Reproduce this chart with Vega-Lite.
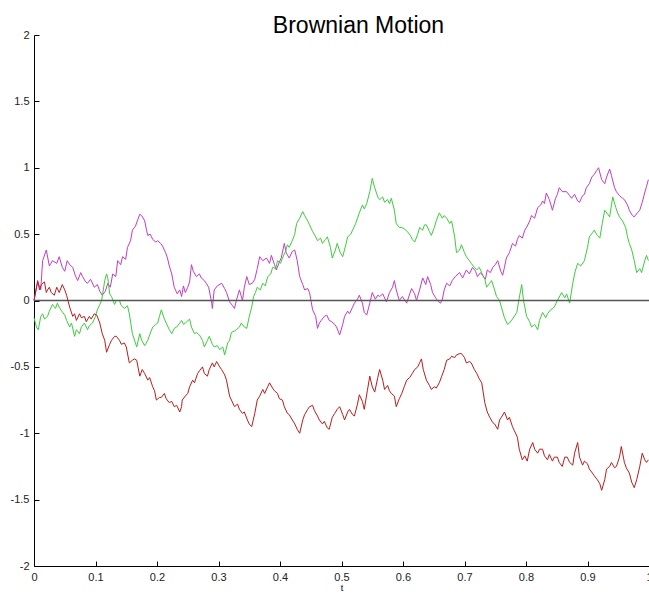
{
"$schema": "https://vega.github.io/schema/vega-lite/v6.json",
"width": 615, "height": 531,
"autosize": {"type": "none"},
"padding": {"left": 34, "top": 35, "right": 0, "bottom": 28},
"background": "white",
"config": {"view": {"stroke": null}, "font": "Liberation Sans"},
"title": {"text": "Brownian Motion", "fontSize": 23, "fontWeight": "normal", "color": "#000", "font": "Liberation Sans", "anchor": "middle", "dx": 17, "dy": 29, "baseline": "alphabetic", "offset": 2},
"datasets": {
"m": [
{"t":0,"v":0.0},{"t":0.006,"v":0.14},{"t":0.011,"v":0.08},{"t":0.014,"v":0.30},{"t":0.020,"v":0.38},{"t":0.025,"v":0.26},{"t":0.030,"v":0.30},{"t":0.037,"v":0.28},{"t":0.041,"v":0.33},{"t":0.046,"v":0.25},{"t":0.050,"v":0.22},{"t":0.054,"v":0.30},{"t":0.058,"v":0.27},{"t":0.063,"v":0.25},{"t":0.067,"v":0.19},{"t":0.071,"v":0.15},{"t":0.076,"v":0.21},{"t":0.079,"v":0.18},{"t":0.084,"v":0.14},{"t":0.087,"v":0.13},{"t":0.092,"v":0.16},{"t":0.098,"v":0.10},{"t":0.103,"v":0.12},{"t":0.107,"v":0.07},{"t":0.111,"v":0.04},{"t":0.116,"v":0.07},{"t":0.120,"v":0.13},{"t":0.124,"v":0.10},{"t":0.128,"v":0.20},{"t":0.133,"v":0.18},{"t":0.136,"v":0.30},{"t":0.141,"v":0.27},{"t":0.144,"v":0.33},{"t":0.149,"v":0.31},{"t":0.152,"v":0.40},{"t":0.157,"v":0.45},{"t":0.160,"v":0.53},{"t":0.165,"v":0.56},{"t":0.168,"v":0.60},{"t":0.172,"v":0.65},{"t":0.175,"v":0.64},{"t":0.180,"v":0.60},{"t":0.183,"v":0.53},{"t":0.185,"v":0.49},{"t":0.189,"v":0.50},{"t":0.193,"v":0.46},{"t":0.198,"v":0.44},{"t":0.201,"v":0.45},{"t":0.206,"v":0.43},{"t":0.209,"v":0.41},{"t":0.214,"v":0.36},{"t":0.217,"v":0.32},{"t":0.220,"v":0.26},{"t":0.224,"v":0.20},{"t":0.228,"v":0.10},{"t":0.233,"v":0.05},{"t":0.237,"v":0.08},{"t":0.240,"v":0.03},{"t":0.243,"v":0.11},{"t":0.246,"v":0.06},{"t":0.250,"v":0.10},{"t":0.253,"v":0.14},{"t":0.256,"v":0.27},{"t":0.259,"v":0.22},{"t":0.264,"v":0.18},{"t":0.269,"v":0.20},{"t":0.272,"v":0.17},{"t":0.277,"v":0.15},{"t":0.280,"v":0.13},{"t":0.284,"v":0.10},{"t":0.289,"v":-0.02},{"t":0.290,"v":-0.06},{"t":0.293,"v":0.08},{"t":0.298,"v":0.11},{"t":0.305,"v":0.13},{"t":0.310,"v":0.09},{"t":0.313,"v":0.06},{"t":0.318,"v":-0.01},{"t":0.323,"v":-0.04},{"t":0.326,"v":-0.06},{"t":0.329,"v":0.00},{"t":0.334,"v":0.08},{"t":0.339,"v":0.00},{"t":0.342,"v":0.10},{"t":0.346,"v":0.18},{"t":0.350,"v":0.12},{"t":0.355,"v":0.13},{"t":0.359,"v":0.16},{"t":0.363,"v":0.24},{"t":0.367,"v":0.33},{"t":0.372,"v":0.30},{"t":0.378,"v":0.32},{"t":0.383,"v":0.28},{"t":0.386,"v":0.34},{"t":0.391,"v":0.27},{"t":0.394,"v":0.23},{"t":0.399,"v":0.29},{"t":0.402,"v":0.32},{"t":0.407,"v":0.43},{"t":0.410,"v":0.36},{"t":0.415,"v":0.32},{"t":0.420,"v":0.37},{"t":0.424,"v":0.38},{"t":0.428,"v":0.30},{"t":0.432,"v":0.18},{"t":0.437,"v":0.12},{"t":0.440,"v":0.08},{"t":0.445,"v":0.09},{"t":0.448,"v":0.06},{"t":0.453,"v":-0.07},{"t":0.458,"v":-0.12},{"t":0.461,"v":-0.21},{"t":0.464,"v":-0.17},{"t":0.467,"v":-0.15},{"t":0.472,"v":-0.12},{"t":0.476,"v":-0.11},{"t":0.480,"v":-0.15},{"t":0.484,"v":-0.16},{"t":0.489,"v":-0.18},{"t":0.492,"v":-0.20},{"t":0.497,"v":-0.26},{"t":0.502,"v":-0.18},{"t":0.505,"v":-0.12},{"t":0.510,"v":-0.08},{"t":0.513,"v":-0.10},{"t":0.518,"v":-0.05},{"t":0.521,"v":-0.02},{"t":0.526,"v":0.01},{"t":0.529,"v":0.04},{"t":0.534,"v":-0.02},{"t":0.537,"v":-0.09},{"t":0.541,"v":-0.11},{"t":0.546,"v":-0.02},{"t":0.550,"v":0.06},{"t":0.555,"v":0.01},{"t":0.559,"v":0.04},{"t":0.562,"v":0.03},{"t":0.567,"v":0.05},{"t":0.573,"v":-0.01},{"t":0.578,"v":0.06},{"t":0.583,"v":0.10},{"t":0.586,"v":0.15},{"t":0.589,"v":0.08},{"t":0.594,"v":0.00},{"t":0.599,"v":0.03},{"t":0.606,"v":-0.02},{"t":0.611,"v":0.05},{"t":0.614,"v":0.09},{"t":0.619,"v":0.05},{"t":0.622,"v":0.00},{"t":0.627,"v":0.08},{"t":0.632,"v":0.17},{"t":0.637,"v":0.12},{"t":0.640,"v":0.18},{"t":0.645,"v":0.12},{"t":0.648,"v":0.06},{"t":0.653,"v":0.02},{"t":0.656,"v":0.00},{"t":0.661,"v":-0.02},{"t":0.664,"v":0.01},{"t":0.667,"v":0.08},{"t":0.671,"v":0.13},{"t":0.676,"v":0.11},{"t":0.680,"v":0.15},{"t":0.685,"v":0.18},{"t":0.692,"v":0.21},{"t":0.697,"v":0.17},{"t":0.703,"v":0.23},{"t":0.708,"v":0.20},{"t":0.713,"v":0.25},{"t":0.718,"v":0.22},{"t":0.721,"v":0.18},{"t":0.726,"v":0.21},{"t":0.729,"v":0.19},{"t":0.734,"v":0.16},{"t":0.737,"v":0.23},{"t":0.742,"v":0.21},{"t":0.746,"v":0.25},{"t":0.750,"v":0.27},{"t":0.754,"v":0.30},{"t":0.759,"v":0.22},{"t":0.762,"v":0.19},{"t":0.765,"v":0.25},{"t":0.768,"v":0.32},{"t":0.773,"v":0.36},{"t":0.778,"v":0.43},{"t":0.783,"v":0.41},{"t":0.786,"v":0.46},{"t":0.789,"v":0.49},{"t":0.794,"v":0.47},{"t":0.798,"v":0.53},{"t":0.802,"v":0.56},{"t":0.806,"v":0.60},{"t":0.809,"v":0.64},{"t":0.814,"v":0.62},{"t":0.819,"v":0.70},{"t":0.824,"v":0.72},{"t":0.827,"v":0.75},{"t":0.830,"v":0.73},{"t":0.833,"v":0.81},{"t":0.838,"v":0.76},{"t":0.843,"v":0.68},{"t":0.848,"v":0.77},{"t":0.851,"v":0.80},{"t":0.854,"v":0.85},{"t":0.859,"v":0.82},{"t":0.866,"v":0.82},{"t":0.871,"v":0.79},{"t":0.874,"v":0.77},{"t":0.879,"v":0.80},{"t":0.884,"v":0.75},{"t":0.887,"v":0.74},{"t":0.892,"v":0.79},{"t":0.895,"v":0.80},{"t":0.898,"v":0.85},{"t":0.903,"v":0.88},{"t":0.907,"v":0.93},{"t":0.911,"v":0.95},{"t":0.915,"v":0.98},{"t":0.918,"v":1.00},{"t":0.923,"v":0.91},{"t":0.928,"v":0.88},{"t":0.931,"v":0.93},{"t":0.936,"v":0.99},{"t":0.939,"v":0.94},{"t":0.944,"v":0.85},{"t":0.947,"v":0.82},{"t":0.952,"v":0.79},{"t":0.957,"v":0.77},{"t":0.960,"v":0.76},{"t":0.965,"v":0.72},{"t":0.968,"v":0.68},{"t":0.973,"v":0.64},{"t":0.976,"v":0.63},{"t":0.981,"v":0.66},{"t":0.985,"v":0.68},{"t":0.989,"v":0.74},{"t":0.993,"v":0.81},{"t":0.996,"v":0.86},{"t":0.999,"v":0.91}
],
"g": [
{"t":0,"v":-0.13},{"t":0.004,"v":-0.20},{"t":0.007,"v":-0.22},{"t":0.011,"v":-0.12},{"t":0.014,"v":-0.10},{"t":0.017,"v":-0.14},{"t":0.022,"v":-0.12},{"t":0.025,"v":-0.08},{"t":0.030,"v":-0.03},{"t":0.035,"v":-0.06},{"t":0.038,"v":-0.02},{"t":0.041,"v":-0.05},{"t":0.045,"v":-0.08},{"t":0.050,"v":-0.11},{"t":0.053,"v":-0.15},{"t":0.058,"v":-0.20},{"t":0.061,"v":-0.17},{"t":0.066,"v":-0.27},{"t":0.069,"v":-0.22},{"t":0.074,"v":-0.25},{"t":0.077,"v":-0.20},{"t":0.082,"v":-0.17},{"t":0.087,"v":-0.22},{"t":0.090,"v":-0.19},{"t":0.095,"v":-0.17},{"t":0.100,"v":-0.12},{"t":0.103,"v":-0.07},{"t":0.107,"v":-0.03},{"t":0.110,"v":0.00},{"t":0.115,"v":0.15},{"t":0.118,"v":0.20},{"t":0.120,"v":0.17},{"t":0.123,"v":0.05},{"t":0.126,"v":0.03},{"t":0.131,"v":-0.03},{"t":0.134,"v":0.00},{"t":0.139,"v":0.00},{"t":0.142,"v":-0.04},{"t":0.147,"v":-0.06},{"t":0.152,"v":-0.04},{"t":0.155,"v":-0.10},{"t":0.160,"v":-0.25},{"t":0.167,"v":-0.35},{"t":0.172,"v":-0.25},{"t":0.175,"v":-0.30},{"t":0.180,"v":-0.34},{"t":0.185,"v":-0.30},{"t":0.188,"v":-0.26},{"t":0.193,"v":-0.20},{"t":0.198,"v":-0.18},{"t":0.201,"v":-0.17},{"t":0.204,"v":-0.12},{"t":0.207,"v":-0.07},{"t":0.212,"v":-0.14},{"t":0.215,"v":-0.17},{"t":0.220,"v":-0.22},{"t":0.224,"v":-0.25},{"t":0.228,"v":-0.21},{"t":0.232,"v":-0.20},{"t":0.237,"v":-0.17},{"t":0.240,"v":-0.15},{"t":0.243,"v":-0.18},{"t":0.246,"v":-0.17},{"t":0.253,"v":-0.14},{"t":0.256,"v":-0.20},{"t":0.261,"v":-0.25},{"t":0.264,"v":-0.24},{"t":0.269,"v":-0.26},{"t":0.274,"v":-0.30},{"t":0.277,"v":-0.35},{"t":0.282,"v":-0.30},{"t":0.285,"v":-0.27},{"t":0.290,"v":-0.33},{"t":0.293,"v":-0.35},{"t":0.298,"v":-0.34},{"t":0.302,"v":-0.37},{"t":0.307,"v":-0.35},{"t":0.310,"v":-0.41},{"t":0.315,"v":-0.32},{"t":0.318,"v":-0.30},{"t":0.321,"v":-0.24},{"t":0.326,"v":-0.23},{"t":0.329,"v":-0.22},{"t":0.334,"v":-0.20},{"t":0.337,"v":-0.17},{"t":0.342,"v":-0.20},{"t":0.346,"v":-0.21},{"t":0.350,"v":-0.12},{"t":0.354,"v":-0.05},{"t":0.357,"v":0.03},{"t":0.360,"v":0.06},{"t":0.363,"v":0.10},{"t":0.368,"v":0.08},{"t":0.372,"v":0.13},{"t":0.376,"v":0.11},{"t":0.380,"v":0.18},{"t":0.385,"v":0.20},{"t":0.388,"v":0.25},{"t":0.393,"v":0.24},{"t":0.396,"v":0.30},{"t":0.401,"v":0.28},{"t":0.404,"v":0.32},{"t":0.409,"v":0.37},{"t":0.412,"v":0.42},{"t":0.415,"v":0.40},{"t":0.419,"v":0.44},{"t":0.424,"v":0.50},{"t":0.427,"v":0.58},{"t":0.432,"v":0.62},{"t":0.437,"v":0.67},{"t":0.440,"v":0.64},{"t":0.445,"v":0.60},{"t":0.448,"v":0.57},{"t":0.453,"v":0.52},{"t":0.458,"v":0.48},{"t":0.461,"v":0.45},{"t":0.466,"v":0.47},{"t":0.469,"v":0.43},{"t":0.474,"v":0.46},{"t":0.477,"v":0.48},{"t":0.482,"v":0.40},{"t":0.485,"v":0.32},{"t":0.490,"v":0.38},{"t":0.493,"v":0.43},{"t":0.498,"v":0.36},{"t":0.502,"v":0.33},{"t":0.507,"v":0.42},{"t":0.510,"v":0.48},{"t":0.515,"v":0.50},{"t":0.518,"v":0.53},{"t":0.523,"v":0.58},{"t":0.526,"v":0.62},{"t":0.529,"v":0.66},{"t":0.534,"v":0.72},{"t":0.537,"v":0.69},{"t":0.541,"v":0.73},{"t":0.546,"v":0.82},{"t":0.550,"v":0.92},{"t":0.554,"v":0.85},{"t":0.559,"v":0.78},{"t":0.562,"v":0.76},{"t":0.567,"v":0.78},{"t":0.570,"v":0.74},{"t":0.575,"v":0.76},{"t":0.578,"v":0.73},{"t":0.581,"v":0.77},{"t":0.586,"v":0.68},{"t":0.589,"v":0.58},{"t":0.594,"v":0.55},{"t":0.598,"v":0.55},{"t":0.602,"v":0.54},{"t":0.607,"v":0.52},{"t":0.612,"v":0.49},{"t":0.615,"v":0.46},{"t":0.619,"v":0.44},{"t":0.624,"v":0.50},{"t":0.627,"v":0.55},{"t":0.632,"v":0.53},{"t":0.635,"v":0.57},{"t":0.638,"v":0.57},{"t":0.643,"v":0.52},{"t":0.646,"v":0.49},{"t":0.651,"v":0.55},{"t":0.654,"v":0.60},{"t":0.659,"v":0.66},{"t":0.664,"v":0.62},{"t":0.667,"v":0.64},{"t":0.671,"v":0.62},{"t":0.676,"v":0.58},{"t":0.679,"v":0.60},{"t":0.684,"v":0.48},{"t":0.687,"v":0.36},{"t":0.692,"v":0.38},{"t":0.695,"v":0.42},{"t":0.700,"v":0.36},{"t":0.703,"v":0.33},{"t":0.708,"v":0.30},{"t":0.711,"v":0.28},{"t":0.716,"v":0.25},{"t":0.720,"v":0.23},{"t":0.724,"v":0.25},{"t":0.728,"v":0.21},{"t":0.733,"v":0.16},{"t":0.736,"v":0.10},{"t":0.741,"v":0.13},{"t":0.744,"v":0.15},{"t":0.749,"v":0.08},{"t":0.752,"v":0.03},{"t":0.757,"v":0.00},{"t":0.760,"v":-0.05},{"t":0.765,"v":-0.13},{"t":0.770,"v":-0.18},{"t":0.773,"v":-0.17},{"t":0.778,"v":-0.14},{"t":0.785,"v":-0.09},{"t":0.789,"v":0.02},{"t":0.793,"v":0.12},{"t":0.796,"v":0.00},{"t":0.801,"v":-0.12},{"t":0.806,"v":-0.16},{"t":0.809,"v":-0.20},{"t":0.814,"v":-0.18},{"t":0.819,"v":-0.22},{"t":0.822,"v":-0.15},{"t":0.827,"v":-0.09},{"t":0.832,"v":-0.13},{"t":0.835,"v":-0.10},{"t":0.840,"v":-0.07},{"t":0.846,"v":-0.05},{"t":0.851,"v":0.00},{"t":0.858,"v":0.06},{"t":0.863,"v":0.02},{"t":0.866,"v":0.05},{"t":0.871,"v":-0.02},{"t":0.876,"v":0.13},{"t":0.880,"v":0.22},{"t":0.884,"v":0.28},{"t":0.889,"v":0.26},{"t":0.895,"v":0.30},{"t":0.900,"v":0.40},{"t":0.903,"v":0.48},{"t":0.908,"v":0.51},{"t":0.911,"v":0.53},{"t":0.916,"v":0.49},{"t":0.920,"v":0.47},{"t":0.924,"v":0.58},{"t":0.928,"v":0.68},{"t":0.933,"v":0.65},{"t":0.936,"v":0.63},{"t":0.939,"v":0.72},{"t":0.941,"v":0.78},{"t":0.946,"v":0.70},{"t":0.949,"v":0.66},{"t":0.952,"v":0.63},{"t":0.957,"v":0.60},{"t":0.962,"v":0.55},{"t":0.965,"v":0.48},{"t":0.968,"v":0.43},{"t":0.972,"v":0.38},{"t":0.976,"v":0.30},{"t":0.980,"v":0.21},{"t":0.985,"v":0.24},{"t":0.988,"v":0.21},{"t":0.993,"v":0.30},{"t":0.996,"v":0.34},{"t":0.999,"v":0.30}
],
"r": [
{"t":0,"v":0.00},{"t":0.004,"v":0.10},{"t":0.006,"v":0.15},{"t":0.009,"v":0.08},{"t":0.012,"v":0.12},{"t":0.017,"v":0.14},{"t":0.020,"v":0.06},{"t":0.022,"v":0.08},{"t":0.025,"v":0.10},{"t":0.028,"v":0.06},{"t":0.033,"v":0.04},{"t":0.037,"v":0.10},{"t":0.041,"v":0.06},{"t":0.046,"v":0.12},{"t":0.050,"v":0.08},{"t":0.053,"v":0.04},{"t":0.058,"v":-0.05},{"t":0.063,"v":-0.12},{"t":0.066,"v":-0.10},{"t":0.069,"v":-0.15},{"t":0.074,"v":-0.10},{"t":0.077,"v":-0.13},{"t":0.082,"v":-0.12},{"t":0.085,"v":-0.16},{"t":0.090,"v":-0.12},{"t":0.093,"v":-0.14},{"t":0.098,"v":-0.10},{"t":0.102,"v":-0.11},{"t":0.107,"v":-0.17},{"t":0.111,"v":-0.25},{"t":0.115,"v":-0.30},{"t":0.118,"v":-0.39},{"t":0.123,"v":-0.33},{"t":0.126,"v":-0.30},{"t":0.131,"v":-0.27},{"t":0.134,"v":-0.27},{"t":0.139,"v":-0.30},{"t":0.142,"v":-0.33},{"t":0.147,"v":-0.32},{"t":0.150,"v":-0.35},{"t":0.155,"v":-0.47},{"t":0.160,"v":-0.45},{"t":0.163,"v":-0.44},{"t":0.167,"v":-0.45},{"t":0.172,"v":-0.57},{"t":0.176,"v":-0.52},{"t":0.180,"v":-0.55},{"t":0.185,"v":-0.60},{"t":0.188,"v":-0.58},{"t":0.193,"v":-0.65},{"t":0.196,"v":-0.68},{"t":0.199,"v":-0.75},{"t":0.204,"v":-0.73},{"t":0.207,"v":-0.73},{"t":0.212,"v":-0.70},{"t":0.215,"v":-0.74},{"t":0.220,"v":-0.77},{"t":0.224,"v":-0.76},{"t":0.228,"v":-0.80},{"t":0.232,"v":-0.79},{"t":0.237,"v":-0.84},{"t":0.240,"v":-0.80},{"t":0.241,"v":-0.75},{"t":0.246,"v":-0.72},{"t":0.250,"v":-0.70},{"t":0.253,"v":-0.65},{"t":0.258,"v":-0.60},{"t":0.261,"v":-0.62},{"t":0.266,"v":-0.55},{"t":0.269,"v":-0.53},{"t":0.274,"v":-0.50},{"t":0.277,"v":-0.55},{"t":0.282,"v":-0.57},{"t":0.285,"v":-0.52},{"t":0.290,"v":-0.47},{"t":0.293,"v":-0.50},{"t":0.297,"v":-0.46},{"t":0.302,"v":-0.50},{"t":0.305,"v":-0.52},{"t":0.310,"v":-0.56},{"t":0.313,"v":-0.60},{"t":0.318,"v":-0.72},{"t":0.321,"v":-0.75},{"t":0.326,"v":-0.80},{"t":0.331,"v":-0.78},{"t":0.334,"v":-0.82},{"t":0.339,"v":-0.85},{"t":0.342,"v":-0.84},{"t":0.347,"v":-0.90},{"t":0.350,"v":-0.93},{"t":0.354,"v":-0.95},{"t":0.359,"v":-0.85},{"t":0.363,"v":-0.75},{"t":0.367,"v":-0.72},{"t":0.372,"v":-0.67},{"t":0.375,"v":-0.70},{"t":0.380,"v":-0.65},{"t":0.383,"v":-0.62},{"t":0.388,"v":-0.66},{"t":0.391,"v":-0.68},{"t":0.396,"v":-0.70},{"t":0.399,"v":-0.74},{"t":0.404,"v":-0.75},{"t":0.407,"v":-0.80},{"t":0.412,"v":-0.85},{"t":0.415,"v":-0.86},{"t":0.420,"v":-0.90},{"t":0.424,"v":-0.93},{"t":0.428,"v":-0.97},{"t":0.432,"v":-1.00},{"t":0.437,"v":-0.90},{"t":0.440,"v":-0.86},{"t":0.445,"v":-0.82},{"t":0.448,"v":-0.80},{"t":0.453,"v":-0.79},{"t":0.456,"v":-0.83},{"t":0.461,"v":-0.87},{"t":0.464,"v":-0.90},{"t":0.469,"v":-0.93},{"t":0.472,"v":-0.91},{"t":0.477,"v":-0.96},{"t":0.480,"v":-0.97},{"t":0.485,"v":-0.88},{"t":0.489,"v":-0.85},{"t":0.493,"v":-0.82},{"t":0.497,"v":-0.80},{"t":0.502,"v":-0.86},{"t":0.505,"v":-0.90},{"t":0.510,"v":-0.84},{"t":0.513,"v":-0.82},{"t":0.518,"v":-0.86},{"t":0.521,"v":-0.87},{"t":0.526,"v":-0.78},{"t":0.529,"v":-0.71},{"t":0.534,"v":-0.76},{"t":0.537,"v":-0.82},{"t":0.542,"v":-0.68},{"t":0.546,"v":-0.57},{"t":0.550,"v":-0.65},{"t":0.554,"v":-0.69},{"t":0.559,"v":-0.58},{"t":0.562,"v":-0.52},{"t":0.567,"v":-0.60},{"t":0.570,"v":-0.67},{"t":0.575,"v":-0.64},{"t":0.578,"v":-0.68},{"t":0.581,"v":-0.70},{"t":0.586,"v":-0.72},{"t":0.589,"v":-0.80},{"t":0.594,"v":-0.74},{"t":0.598,"v":-0.70},{"t":0.602,"v":-0.65},{"t":0.606,"v":-0.60},{"t":0.611,"v":-0.58},{"t":0.615,"v":-0.55},{"t":0.619,"v":-0.52},{"t":0.624,"v":-0.50},{"t":0.627,"v":-0.47},{"t":0.630,"v":-0.44},{"t":0.633,"v":-0.52},{"t":0.638,"v":-0.60},{"t":0.643,"v":-0.64},{"t":0.646,"v":-0.67},{"t":0.651,"v":-0.65},{"t":0.654,"v":-0.66},{"t":0.659,"v":-0.62},{"t":0.663,"v":-0.57},{"t":0.667,"v":-0.52},{"t":0.671,"v":-0.45},{"t":0.676,"v":-0.44},{"t":0.679,"v":-0.42},{"t":0.684,"v":-0.43},{"t":0.687,"v":-0.41},{"t":0.692,"v":-0.40},{"t":0.695,"v":-0.40},{"t":0.700,"v":-0.43},{"t":0.703,"v":-0.47},{"t":0.708,"v":-0.46},{"t":0.711,"v":-0.47},{"t":0.716,"v":-0.52},{"t":0.720,"v":-0.55},{"t":0.724,"v":-0.59},{"t":0.728,"v":-0.62},{"t":0.733,"v":-0.77},{"t":0.737,"v":-0.84},{"t":0.741,"v":-0.88},{"t":0.746,"v":-0.92},{"t":0.749,"v":-0.93},{"t":0.754,"v":-0.97},{"t":0.757,"v":-0.90},{"t":0.760,"v":-0.88},{"t":0.765,"v":-0.84},{"t":0.770,"v":-0.90},{"t":0.773,"v":-0.88},{"t":0.778,"v":-0.95},{"t":0.781,"v":-0.98},{"t":0.786,"v":-1.03},{"t":0.789,"v":-1.12},{"t":0.794,"v":-1.20},{"t":0.798,"v":-1.17},{"t":0.802,"v":-1.21},{"t":0.806,"v":-1.12},{"t":0.811,"v":-1.07},{"t":0.814,"v":-1.12},{"t":0.819,"v":-1.15},{"t":0.822,"v":-1.12},{"t":0.827,"v":-1.12},{"t":0.830,"v":-1.17},{"t":0.835,"v":-1.20},{"t":0.838,"v":-1.16},{"t":0.843,"v":-1.21},{"t":0.846,"v":-1.18},{"t":0.851,"v":-1.18},{"t":0.854,"v":-1.22},{"t":0.859,"v":-1.25},{"t":0.863,"v":-1.18},{"t":0.867,"v":-1.18},{"t":0.871,"v":-1.22},{"t":0.876,"v":-1.24},{"t":0.879,"v":-1.15},{"t":0.884,"v":-1.07},{"t":0.887,"v":-1.18},{"t":0.892,"v":-1.24},{"t":0.895,"v":-1.21},{"t":0.900,"v":-1.23},{"t":0.903,"v":-1.27},{"t":0.908,"v":-1.30},{"t":0.911,"v":-1.32},{"t":0.916,"v":-1.35},{"t":0.920,"v":-1.38},{"t":0.923,"v":-1.43},{"t":0.928,"v":-1.35},{"t":0.931,"v":-1.27},{"t":0.936,"v":-1.25},{"t":0.939,"v":-1.22},{"t":0.944,"v":-1.26},{"t":0.947,"v":-1.25},{"t":0.952,"v":-1.18},{"t":0.955,"v":-1.10},{"t":0.960,"v":-1.22},{"t":0.963,"v":-1.26},{"t":0.968,"v":-1.30},{"t":0.972,"v":-1.37},{"t":0.976,"v":-1.41},{"t":0.980,"v":-1.35},{"t":0.985,"v":-1.25},{"t":0.989,"v":-1.15},{"t":0.993,"v":-1.20},{"t":0.996,"v":-1.22},{"t":0.999,"v":-1.20}
],
"zero": [{"v":0}]
},
"encoding": {
"x": {"field": "t", "type": "quantitative", "scale": {"domain": [0, 1], "nice": false, "zero": false},
 "axis": {"values": [0,0.1,0.2,0.3,0.4,0.5,0.6,0.7,0.8,0.9,1], "labelExpr": "toString(datum.value)", "grid": false, "tickSize": -5, "tickColor": "#000", "domainColor": "#000", "labelFont": "Liberation Sans", "labelFontSize": 11, "labelColor": "#222", "labelPadding": 10, "labelFlush": false, "labelOverlap": false, "title": "t", "titleFont": "Liberation Sans", "titleFontSize": 9, "titleFontWeight": "normal", "titleColor": "#000", "titlePadding": 1}},
"y": {"field": "v", "type": "quantitative", "scale": {"domain": [-2, 2], "nice": false, "zero": false},
 "axis": {"values": [-2,-1.5,-1,-0.5,0,0.5,1,1.5,2], "labelExpr": "toString(datum.value)", "grid": false, "tickSize": -5, "tickColor": "#000", "domainColor": "#000", "labelFont": "Liberation Sans", "labelFontSize": 11, "labelColor": "#222", "labelPadding": 10, "labelFlush": false, "labelOverlap": false, "title": null}}
},
"layer": [
{"data": {"name": "m"}, "mark": {"type": "line", "color": "#c23cc2", "strokeWidth": 1}},
{"data": {"name": "g"}, "mark": {"type": "line", "color": "#3ccc3c", "strokeWidth": 1}},
{"data": {"name": "r"}, "mark": {"type": "line", "color": "#b81c1c", "strokeWidth": 1}},
{"data": {"name": "zero"}, "mark": {"type": "rule", "color": "#555555", "strokeWidth": 1.5}, "encoding": {"y": {"field": "v", "type": "quantitative"}, "x": null}}
]
}
